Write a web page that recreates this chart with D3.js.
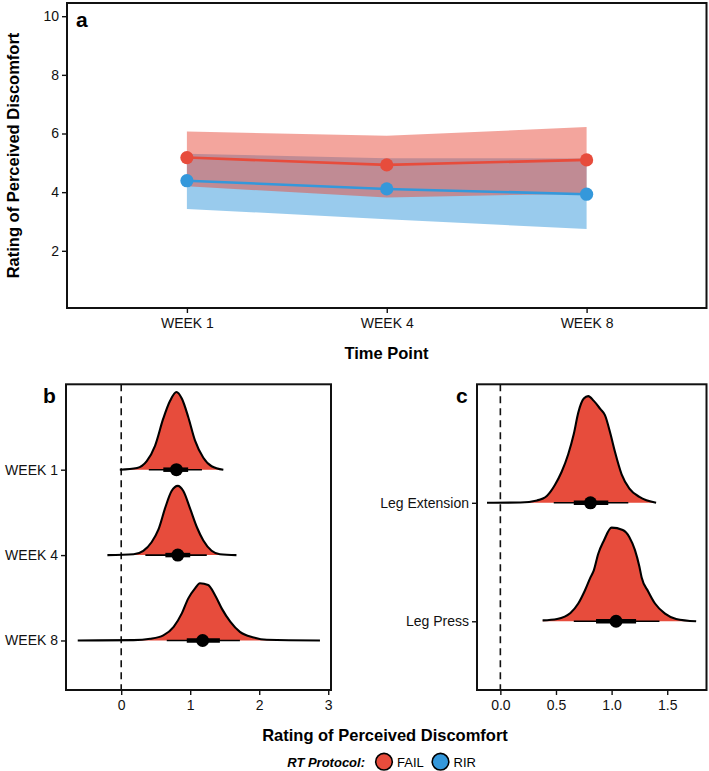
<!DOCTYPE html>
<html lang="en">
<head>
<meta charset="utf-8">
<title>Rating of Perceived Discomfort</title>
<script src="https://cdn.jsdelivr.net/npm/d3@7"></script>
<style>
  body { margin: 0; background: #fff; }
  svg { display: block; font-family: "Liberation Sans", Arial, sans-serif; }
  .axis text { font-size: 14px; fill: #111; }
  .axis line { stroke: #111; stroke-width: 1.4; }
  .axis path { display: none; }
</style>
</head>
<body>
<svg id="fig" width="709" height="771"></svg>
<script>
// ---- panel a: means with bands ----
var weeks = ['WEEK 1', 'WEEK 4', 'WEEK 8'];
var failMean = [5.18, 4.93, 5.10];
var failLow  = [4.20, 3.82, 3.95];
var failHigh = [6.07, 5.92, 6.22];
var rirMean  = [4.39, 4.11, 3.93];
var rirLow   = [3.43, 3.08, 2.74];
var rirHigh  = [5.31, 5.16, 5.15];
var yTicksA  = [2, 4, 6, 8, 10];

// ---- panel b: posterior of difference by week ([x, density]) ----
var weekRows = ['WEEK 1', 'WEEK 4', 'WEEK 8'];
var densWeek1 = [[-0.02,0],[0.23,0.02],[0.37,0.10],[0.49,0.28],[0.61,0.60],[0.71,0.81],[0.80,0.91],
                 [0.88,0.83],[0.97,0.62],[1.07,0.34],[1.19,0.14],[1.31,0.04],[1.48,0]];
var densWeek4 = [[-0.20,0],[0.18,0.01],[0.32,0.05],[0.44,0.15],[0.54,0.30],[0.64,0.56],[0.73,0.75],
                 [0.82,0.81],[0.90,0.75],[1.00,0.54],[1.10,0.32],[1.19,0.17],[1.31,0.05],[1.43,0.01],[1.67,0]];
var densWeek8 = [[-0.63,0],[0.18,0.004],[0.42,0.02],[0.61,0.06],[0.76,0.16],[0.88,0.32],[0.97,0.49],
                 [1.07,0.61],[1.14,0.67],[1.26,0.65],[1.36,0.53],[1.46,0.37],[1.58,0.22],[1.72,0.10],
                 [1.92,0.035],[2.11,0.008],[2.88,0]];
var weekPoint = [0.80, 0.82, 1.18];
var weekInner = [[0.61, 0.97], [0.64, 1.00], [0.95, 1.43]];
var weekOuter = [[0.40, 1.17], [0.35, 1.24], [0.66, 1.72]];
var xTicksB = [0, 1, 2, 3];

// ---- panel c: posterior by exercise ----
var exRows = ['Leg Extension', 'Leg Press'];
var densLegExt = [[-0.12,0],[0.18,0.003],[0.33,0.02],[0.42,0.06],[0.49,0.15],[0.55,0.26],[0.61,0.41],
                  [0.66,0.58],[0.70,0.76],[0.75,0.88],[0.79,0.90],[0.84,0.86],[0.90,0.79],[0.94,0.74],
                  [0.99,0.58],[1.03,0.43],[1.09,0.24],[1.16,0.12],[1.25,0.05],[1.40,0]];
var densLegPress = [[0.38,0.008],[0.51,0.02],[0.63,0.07],[0.70,0.15],[0.76,0.26],[0.81,0.37],[0.84,0.43],
                    [0.88,0.57],[0.93,0.68],[1.00,0.79],[1.10,0.77],[1.16,0.71],[1.21,0.60],[1.25,0.46],
                    [1.27,0.37],[1.33,0.25],[1.39,0.15],[1.48,0.065],[1.58,0.02],[1.76,0]];
var exPoint = [0.81, 1.04];
var exInner = [[0.66, 0.97], [0.86, 1.22]];
var exOuter = [[0.48, 1.15], [0.66, 1.43]];
var xTicksC = [0.0, 0.5, 1.0, 1.5];

var protocols = ['FAIL', 'RIR'];
var red = '#E74C3C', blue = '#3498DB';

var svg = d3.select('#fig');

// ================= panel a =================
var ax = d3.scalePoint().domain(weeks).range([67, 706.5]).padding(0.6);
var ay = d3.scaleLinear().domain([0.05, 10.45]).range([308, 3]);

var band = d3.area()
    .x(function (d, i) { return ax(weeks[i]); })
    .y0(function (d) { return ay(d[0]); })
    .y1(function (d) { return ay(d[1]); });
var line = d3.line()
    .x(function (d, i) { return ax(weeks[i]); })
    .y(function (d) { return ay(d); });

var pa = svg.append('g');
pa.append('path').datum(rirLow.map(function (v, i) { return [v, rirHigh[i]]; }))
    .attr('d', band).attr('fill', blue).attr('fill-opacity', 0.5);
pa.append('path').datum(failLow.map(function (v, i) { return [v, failHigh[i]]; }))
    .attr('d', band).attr('fill', red).attr('fill-opacity', 0.5);

[[failMean, red], [rirMean, blue]].forEach(function (s) {
    pa.append('path').datum(s[0]).attr('d', line)
        .attr('fill', 'none').attr('stroke', s[1]).attr('stroke-width', 2.6);
    pa.selectAll(null).data(s[0]).enter().append('circle')
        .attr('cx', function (d, i) { return ax(weeks[i]); })
        .attr('cy', function (d) { return ay(d); })
        .attr('r', 6.6).attr('fill', s[1]);
});

pa.append('rect').attr('x', 67).attr('y', 3).attr('width', 639.5).attr('height', 305)
    .attr('fill', 'none').attr('stroke', '#111').attr('stroke-width', 2);

pa.append('g').attr('class', 'axis').attr('transform', 'translate(0,308)')
    .call(d3.axisBottom(ax).tickSize(5).tickPadding(5));
pa.append('g').attr('class', 'axis').attr('transform', 'translate(67,0)')
    .call(d3.axisLeft(ay).tickValues(yTicksA).tickSize(5).tickPadding(3));

pa.append('text').attr('transform', 'translate(19,155.5) rotate(-90)')
    .attr('text-anchor', 'middle').attr('font-size', 16.5).attr('font-weight', 'bold')
    .text('Rating of Perceived Discomfort');
pa.append('text').attr('x', 386.5).attr('y', 359).attr('text-anchor', 'middle')
    .attr('font-size', 16.5).attr('font-weight', 'bold').text('Time Point');
pa.append('text').attr('x', 76).attr('y', 27).attr('font-size', 21).attr('font-weight', 'bold').text('a');

// ================= panels b and c =================
function halfeye(opt) {
    var g = svg.append('g');
    var x = d3.scaleLinear().domain(opt.xDomain).range([opt.left, opt.right]);
    var n = opt.rows.length;
    var y = d3.scaleLinear().domain([0.42, n + 1]).range([690, 384.3]);
    var pos = function (i) { return n - i; };

    g.append('line').attr('x1', x(0)).attr('x2', x(0)).attr('y1', 384.3).attr('y2', 690)
        .attr('stroke', '#111').attr('stroke-width', 1.6).attr('stroke-dasharray', '7,5');

    opt.dens.forEach(function (dd, i) {
        var p = pos(i);
        var area = d3.area().curve(d3.curveMonotoneX)
            .x(function (d) { return x(d[0]); })
            .y0(y(p))
            .y1(function (d) { return y(p + d[1]); });
        var outline = d3.line().curve(d3.curveMonotoneX)
            .x(function (d) { return x(d[0]); })
            .y(function (d) { return y(p + d[1]); });
        g.append('path').datum(dd).attr('d', area).attr('fill', red);
        g.append('path').datum(dd).attr('d', outline).attr('fill', 'none')
            .attr('stroke', '#000').attr('stroke-width', 2.1).attr('stroke-linejoin', 'round');
        g.append('line').attr('x1', x(opt.outer[i][0])).attr('x2', x(opt.outer[i][1]))
            .attr('y1', y(p)).attr('y2', y(p)).attr('stroke', '#000').attr('stroke-width', 1.6);
        g.append('line').attr('x1', x(opt.inner[i][0])).attr('x2', x(opt.inner[i][1]))
            .attr('y1', y(p)).attr('y2', y(p)).attr('stroke', '#000').attr('stroke-width', 4.5);
        g.append('circle').attr('cx', x(opt.point[i])).attr('cy', y(p)).attr('r', 6.5).attr('fill', '#000');
    });

    g.append('rect').attr('x', opt.left).attr('y', 384.3)
        .attr('width', opt.right - opt.left).attr('height', 690 - 384.3)
        .attr('fill', 'none').attr('stroke', '#111').attr('stroke-width', 2);

    g.append('g').attr('class', 'axis').attr('transform', 'translate(0,690)')
        .call(d3.axisBottom(x).tickValues(opt.ticks).tickSize(5).tickPadding(5)
            .tickFormat(opt.fmt));
    var yl = d3.scaleOrdinal().domain(opt.rows).range(opt.rows.map(function (r, i) { return y(pos(i)); }));
    g.append('g').attr('class', 'axis').attr('transform', 'translate(' + opt.left + ',0)')
        .call(d3.axisLeft(yl).tickSize(5).tickPadding(3));

    g.append('text').attr('x', opt.labX).attr('y', 403).attr('font-size', 21)
        .attr('font-weight', 'bold').text(opt.label);
}

halfeye({ rows: weekRows, dens: [densWeek1, densWeek4, densWeek8], point: weekPoint,
    inner: weekInner, outer: weekOuter, xDomain: [-0.80, 3.04], left: 66, right: 331,
    ticks: xTicksB, fmt: d3.format('d'), label: 'b', labX: 43 });
halfeye({ rows: exRows, dens: [densLegExt, densLegPress], point: exPoint,
    inner: exInner, outer: exOuter, xDomain: [-0.21, 1.853], left: 477, right: 706.5,
    ticks: xTicksC, fmt: d3.format('.1f'), label: 'c', labX: 456 });

svg.append('text').attr('x', 385).attr('y', 741).attr('text-anchor', 'middle')
    .attr('font-size', 16.5).attr('font-weight', 'bold').text('Rating of Perceived Discomfort');

// legend
var lg = svg.append('g');
lg.append('text').attr('x', 365).attr('y', 766.5).attr('text-anchor', 'end')
    .attr('font-size', 13).attr('font-weight', 'bold').attr('font-style', 'italic').text('RT Protocol:');
var lx = d3.scaleOrdinal().domain(protocols).range([384, 440.5]);
protocols.forEach(function (p, i) {
    lg.append('circle').attr('cx', lx(p)).attr('cy', 761.7).attr('r', 8.3)
        .attr('fill', i ? blue : red).attr('stroke', '#000').attr('stroke-width', 1.6);
    lg.append('text').attr('x', lx(p) + 13).attr('y', 766.5).attr('font-size', 13).text(p);
});
</script>
</body>
</html>
